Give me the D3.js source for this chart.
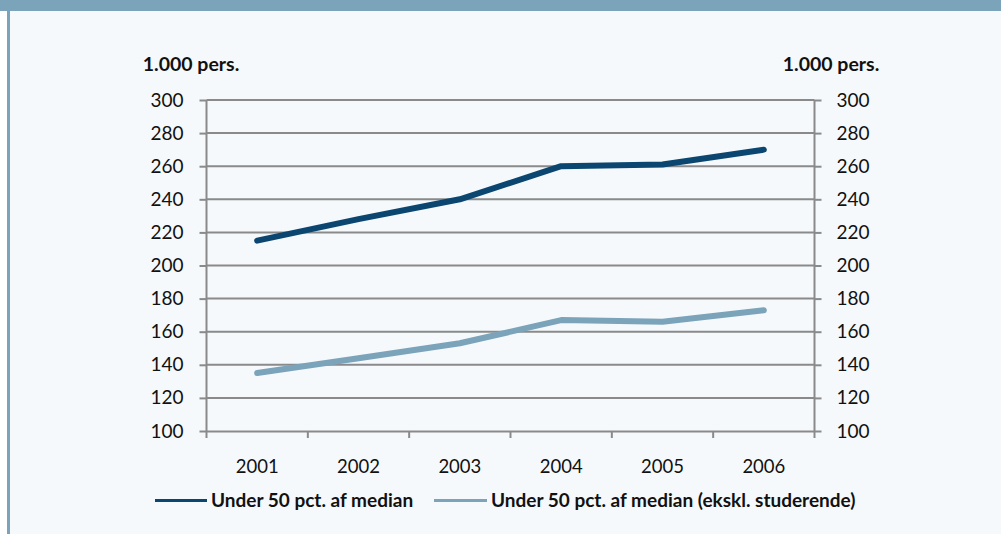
<!DOCTYPE html>
<html><head><meta charset="utf-8">
<script src="https://cdn.jsdelivr.net/npm/d3@7"></script>
<style>
html,body{margin:0;padding:0;background:#fff;}
svg{display:block;}
</style></head>
<body>
<svg id="c" width="1001" height="534"></svg>
<script>
const years = ["2001","2002","2003","2004","2005","2006"];
const seriesNames = ["Under 50 pct. af median","Under 50 pct. af median (ekskl. studerende)"];
const seriesA = [215, 228, 240, 260, 261, 270];
const seriesB = [135, 144, 153, 167, 166, 173];
const yTicks = [100,120,140,160,180,200,220,240,260,280,300];
const unitLabel = "1.000 pers.";
const colors = ["#0B4670","#7BA3BA"];

const svg = d3.select("#c");
const W = 1001, H = 534;
svg.append("rect").attr("x",0).attr("y",0).attr("width",W).attr("height",H).attr("fill","#F5F9FC");
svg.append("rect").attr("x",0).attr("y",0).attr("width",7).attr("height",H).attr("fill","#ffffff");
svg.append("rect").attr("x",7).attr("y",0).attr("width",3).attr("height",H).attr("fill","#7BA3BA");
svg.append("rect").attr("x",0).attr("y",0).attr("width",W).attr("height",11).attr("fill","#7BA3BA");

const L = 206.5, R = 814.5, T = 100, B = 431;
const x = d3.scaleBand().domain(years).range([L,R]);
const y = d3.scaleLinear().domain([100,300]).range([B,T]);
const font = "Lato, 'Open Sans', sans-serif";
const gridCol = "#8a8a8a";

// gridlines
svg.append("g").selectAll("line").data(yTicks.filter(d=>d>100)).join("line")
  .attr("x1",L).attr("x2",R).attr("y1",d=>y(d)).attr("y2",d=>y(d))
  .attr("stroke",gridCol).attr("stroke-width",2);

// left axis
const gl = svg.append("g").attr("transform",`translate(${L},0)`)
  .call(d3.axisLeft(y).tickValues(yTicks).tickSize(7).tickPadding(16));
// right axis
const gr = svg.append("g").attr("transform",`translate(${R},0)`)
  .call(d3.axisRight(y).tickValues(yTicks).tickSize(7).tickPadding(15));
// bottom axis with ticks at band boundaries
const gb = svg.append("g").attr("transform",`translate(0,${B})`)
  .call(d3.axisBottom(x).tickSize(0).tickPadding(0));
gb.selectAll(".tick text").attr("dy",null).attr("y",41.5);
const bounds = years.map(d=>x(d)).concat([x(years[years.length-1])+x.bandwidth()]);
gb.append("g").selectAll("line").data(bounds).join("line")
  .attr("x1",d=>d).attr("x2",d=>d).attr("y1",0).attr("y2",7)
  .attr("stroke",gridCol).attr("stroke-width",2);

[gl,gr,gb].forEach(g=>{
  g.select(".domain").attr("stroke",gridCol).attr("stroke-width",2);
  g.selectAll(".tick line").attr("stroke",gridCol).attr("stroke-width",2);
  g.selectAll(".tick text").attr("font-family",font).attr("font-size",19).attr("fill","#111");
});
gb.selectAll(".tick text").attr("font-size",18.5);
gl.select(".domain").attr("d",`M0,${T}V${B}`);
gr.select(".domain").attr("d",`M0,${T}V${B}`);

// unit labels
svg.append("text").attr("x",191).attr("y",71).attr("text-anchor","middle")
  .attr("font-family",font).attr("font-weight","bold").attr("font-size",19.5).attr("fill","#111").text(unitLabel);
svg.append("text").attr("x",831).attr("y",71).attr("text-anchor","middle")
  .attr("font-family",font).attr("font-weight","bold").attr("font-size",19.5).attr("fill","#111").text(unitLabel);

// lines
const line = d3.line().x((d,i)=>x(years[i])+x.bandwidth()/2).y(d=>y(d));
[seriesB, seriesA].forEach((s,k)=>{
  svg.append("path").datum(s).attr("d",line).attr("fill","none")
    .attr("stroke", k===0?colors[1]:colors[0]).attr("stroke-width",6)
    .attr("stroke-linejoin","round").attr("stroke-linecap","round");
});

// legend
const leg = [{x1:155,x2:207,tx:211},{x1:434,x2:487,tx:491}];
leg.forEach((p,i)=>{
  svg.append("line").attr("x1",p.x1).attr("x2",p.x2).attr("y1",500.5).attr("y2",500.5)
    .attr("stroke",colors[i]).attr("stroke-width",3);
  svg.append("text").attr("x",p.tx).attr("y",507).attr("font-family",font)
    .attr("font-weight","bold").attr("font-size",19).attr("fill","#111").text(seriesNames[i]);
});
</script>
</body></html>
